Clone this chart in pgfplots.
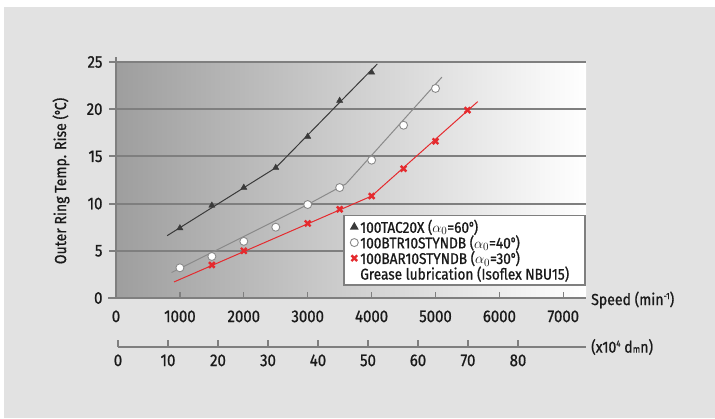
\documentclass[border=0pt]{standalone}
\usepackage{pgfplots}
\pgfplotsset{compat=1.18}
\usepackage{fontspec}
\setmainfont[FakeStretch=0.88, FakeBold=0.9]{Fira Sans}
\definecolor{panel}{HTML}{E2E2E2}
\definecolor{axgray}{HTML}{7F7F7F}
\definecolor{txt}{HTML}{1A1A1A}
\definecolor{sA}{HTML}{3A3A3A}
\definecolor{sB}{HTML}{8A8A8A}
\definecolor{sC}{HTML}{E52A2E}
\newcommand{\dg}{\raisebox{0.75ex}{\fontsize{9}{9}\selectfont o}}
\begin{document}
\begin{tikzpicture}[x=1pt,y=1pt]
\fill[white] (0,0) rectangle (715,418);
\fill[panel] (4,0) rectangle (715,411);
\begin{axis}[
  at={(116pt,120pt)}, anchor=south west, scale only axis,
  width=470pt, height=236pt,
  xmin=0, xmax=7355, ymin=0, ymax=25,
  axis background/.style={left color=black!38, right color=white},
  axis line style={draw=none},
  xtick={0,1000,...,7000},
  xticklabels={0,1000,2000,3000,4000,5000,6000,7000},
  ytick={0,5,...,25},
  yticklabels={0,5,10,15,20,25},
  xtick pos=bottom, ytick pos=left,
  tick align=inside,
  major tick length=6pt,
  xtick style={axgray, line width=1.2pt},
  ytick style={draw=none},
  ymajorgrids, grid style={axgray, line width=2pt},
  ticklabel style={font=\fontsize{17}{20}\selectfont, text=txt},
  xticklabel style={yshift=-9pt},
  yticklabel style={xshift=-10pt},
  clip=false,
  legend style={at={(0.483,0.352)}, anchor=north west, draw=axgray, line width=1.5pt,
    fill=white, font=\fontsize{15.5}{17}\selectfont, text=txt, row sep=-3pt, inner sep=2pt},
  legend cell align=left,
]
% fitted lines
\addplot[sA, line width=1pt, forget plot] coordinates {(800,6.6) (2500,13.8) (4090,24.8)};
\addplot[sB, line width=1pt, forget plot] coordinates {(870,2.7) (3000,9.9) (3600,12.1) (5100,23.4)};
\addplot[sC, line width=1pt, forget plot] coordinates {(908,1.7) (4000,10.8) (5660,20.8)};
% custom axis lines and outer y ticks
\draw[axgray, line width=2.5pt] (rel axis cs:0,0) -- (rel axis cs:0,1) -- ++(0,5pt);
\draw[axgray, line width=2pt] (axis cs:0,0) ++(-8pt,0) -- (rel axis cs:1,0);
\pgfplotsinvokeforeach{5,10,15,20,25}{\draw[axgray, line width=2pt] (axis cs:0,#1) -- ++(-7pt,0);}
% markers
\addplot[only marks, mark=triangle*, mark size=3.6pt, sA, mark options={fill=sA, draw=sA}]
  coordinates {(1000,7.4) (1500,9.8) (2000,11.7) (2500,13.8) (3000,17.1) (3500,20.9) (4000,23.9)};
\addlegendentry{100TAC20X ($\alpha_0$=60\dg)}
\addplot[only marks, mark=*, mark size=4pt, mark options={fill=white, draw=sB, line width=0.9pt}]
  coordinates {(1000,3.2) (1500,4.4) (2000,6.0) (2500,7.5) (3000,9.9) (3500,11.7) (4000,14.6) (4500,18.3) (5000,22.2)};
\addlegendentry{100BTR10STYNDB ($\alpha_0$=40\dg)}
\addplot[only marks, mark=x, mark size=4pt, sC, line width=2.4pt]
  coordinates {(1500,3.5) (2000,5.0) (3000,7.9) (3500,9.4) (4000,10.8) (4500,13.7) (5000,16.6) (5500,19.9)};
\addlegendentry{100BAR10STYNDB ($\alpha_0$=30\dg)}
\addlegendimage{empty legend}
\addlegendentry{Grease lubrication (Isoflex NBU15)\rule{12pt}{0pt}}
\end{axis}
\begin{axis}[
  at={(118pt,71pt)}, anchor=south west, scale only axis,
  width=468pt, height=10pt,
  xmin=0, xmax=93.6, ymin=0, ymax=1,
  axis x line*=bottom, axis y line=none,
  axis line style={-, axgray, line width=2pt},
  xtick={0,10,20,30,40,50,60,70,80},
  xticklabels={0,10,20,30,40,50,60,70,80},
  tick align=inside, major tick length=7pt,
  xtick style={axgray, line width=1.2pt},
  ticklabel style={font=\fontsize{17}{20}\selectfont, text=txt},
  xticklabel style={yshift=-4pt},
]
\addplot[draw=none] coordinates {(0,0)};
\end{axis}
\node[rotate=90, font=\fontsize{16}{19}\selectfont, text=txt] at (61,237) {Outer Ring Temp. Rise (\dg C)};
\node[anchor=west, inner sep=0pt, font=\fontsize{16}{19}\selectfont, text=txt] at (591,118) {Speed (min\raisebox{0.7ex}{\fontsize{9}{9}\selectfont -1})};
\node[anchor=west, inner sep=0pt, font=\fontsize{16}{19}\selectfont, text=txt] at (591,71) {(x10\raisebox{0.7ex}{\fontsize{9}{9}\selectfont 4} d{\fontsize{10}{10}\selectfont m}n)};
\pgfresetboundingbox
\path[use as bounding box] (0,0) rectangle (715,418);
\end{tikzpicture}
\end{document}
